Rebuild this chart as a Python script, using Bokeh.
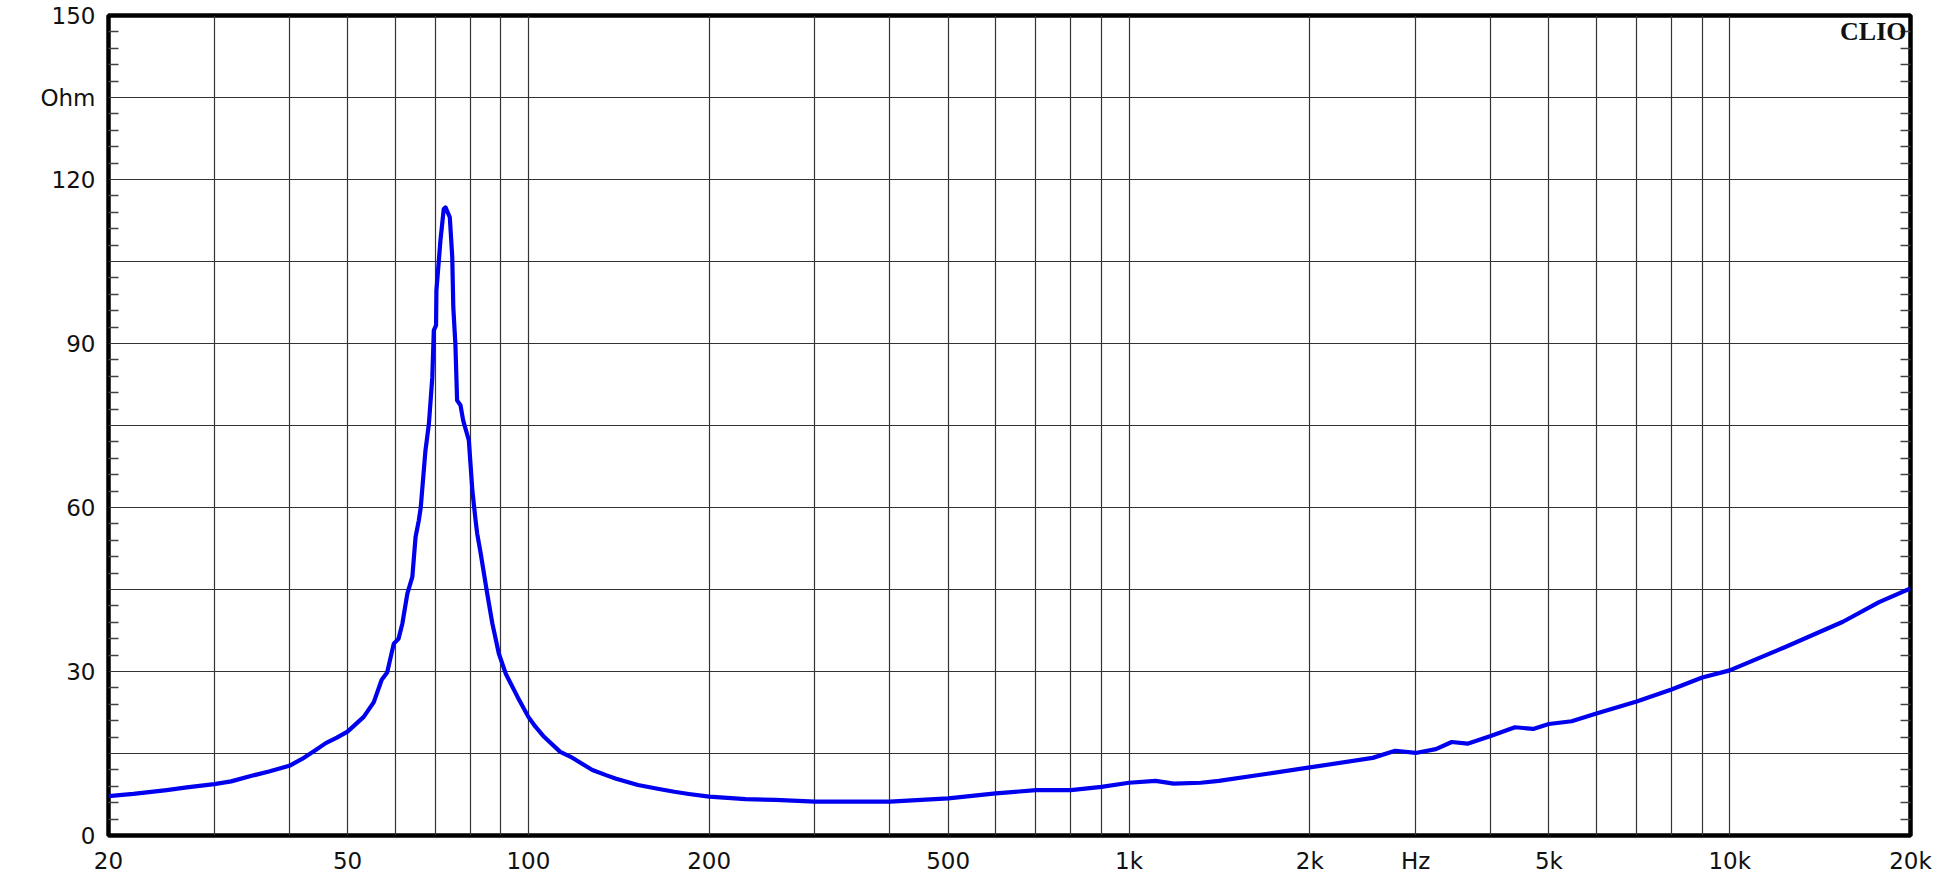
from bokeh.plotting import figure
from bokeh.models import Range1d, FixedTicker, LinearAxis, Label
from bokeh.embed import file_html
from bokeh.resources import INLINE

# Impedance curve (Hz, Ohm)
freq = [20, 22, 25, 27, 30, 32, 35, 37, 40, 42, 44.2, 46, 48, 50, 53.2, 55.3, 57.0, 58.2, 59.7,
        60.8, 61.7, 62.9, 64.1, 64.9, 65.7, 66.2, 67.4, 68.3, 69.2, 69.6, 70.2, 70.3, 71.4,
        72.3, 72.8, 74.0, 74.7, 75.0, 75.6, 76.1, 77.1, 77.9, 79.6, 80.7, 81.7, 82.2, 83.3,
        85.4, 87.1, 89.3, 91.7, 95.9, 100, 102.6, 106.2, 113, 117.6, 127.8, 135, 140, 152.2,
        165, 175, 185, 200, 230, 257.8, 300, 350, 400, 500, 600, 700, 800, 900, 1000, 1107,
        1187, 1317, 1411, 1700, 2000, 2545, 2775, 3000, 3243, 3446, 3661, 4000, 4392, 4707,
        5000, 5456, 6000, 7000, 8000, 9000, 10000, 12323, 15436, 17731, 20000]
ohm = [7.2, 7.6, 8.3, 8.8, 9.4, 9.9, 11.05, 11.7, 12.75, 14.0, 15.6, 16.9, 17.9, 19.0, 21.7, 24.4,
       28.5, 29.8, 35.1, 36.0, 38.8, 44.3, 47.3, 54.6, 57.6, 60.0, 70.4, 75.3, 83.8, 92.4, 93.3,
       99.7, 108.9, 114.6, 114.9, 113.1, 105.8, 96.6, 89.9, 79.6, 78.7, 75.9, 72.3, 63.0, 57.6,
       55.2, 51.6, 44.3, 38.8, 33.3, 29.6, 25.4, 21.7, 20.0, 18.05, 15.3, 14.4, 11.97, 11.0,
       10.4, 9.23, 8.5, 8.0, 7.6, 7.1, 6.67, 6.5, 6.2, 6.2, 6.2, 6.8, 7.7, 8.3, 8.3, 8.9, 9.65,
       10.0, 9.5, 9.65, 10.0, 11.3, 12.45, 14.2, 15.5, 15.1, 15.8, 17.1, 16.8, 18.2, 19.8, 19.5,
       20.4, 20.9, 22.3, 24.5, 26.7, 28.9, 30.2, 34.4, 39.1, 42.7, 45.2]

# Axis ticks and labels
x_label_ticks = [20, 50, 100, 200, 500, 1000, 2000, 3000, 5000, 10000, 20000]
x_label_text = ["20", "50", "100", "200", "500", "1k", "2k", "Hz", "5k", "10k", "20k"]
x_grid_ticks = [30, 40, 50, 60, 70, 80, 90, 100, 200, 300, 400, 500, 600, 700, 800, 900,
                1000, 2000, 3000, 4000, 5000, 6000, 7000, 8000, 9000, 10000]
y_label_ticks = [0, 30, 60, 90, 120, 135, 150]
y_label_text = ["0", "30", "60", "90", "120", "Ohm", "150"]
y_grid_ticks = [15, 30, 45, 60, 75, 90, 105, 120, 135]
y_minor_ticks = [v for v in range(3, 150, 3) if v % 15 != 0]

p = figure(width=1938, height=878, x_axis_type="log",
           x_range=Range1d(20, 20000), y_range=Range1d(0, 150),
           output_backend="svg", toolbar_location=None,
           min_border_left=108, min_border_right=28, min_border_top=15, min_border_bottom=43)

p.background_fill_color = "white"
p.border_fill_color = "white"
p.outline_line_color = "black"
p.outline_line_width = 4.5

label_font = "DejaVu Sans"
label_size = "23px"

# bottom axis
xa = p.xaxis[0]
xa.ticker = FixedTicker(ticks=x_label_ticks, minor_ticks=[])
xa.major_label_overrides = {t: s for t, s in zip(x_label_ticks, x_label_text)}
xa.axis_line_color = None
xa.major_tick_in = 0
xa.major_tick_out = 0
xa.minor_tick_in = 0
xa.minor_tick_out = 0
xa.major_label_standoff = 12
xa.major_label_text_font = label_font
xa.major_label_text_font_size = label_size
xa.major_label_text_color = "#111111"

# left axis
ya = p.yaxis[0]
ya.ticker = FixedTicker(ticks=y_label_ticks, minor_ticks=y_minor_ticks)
ya.major_label_overrides = {t: s for t, s in zip(y_label_ticks, y_label_text)}
ya.axis_line_color = None
ya.major_tick_in = 0
ya.major_tick_out = 0
ya.minor_tick_in = 10
ya.minor_tick_out = 0
ya.minor_tick_line_color = "#444444"
ya.minor_tick_line_width = 1.5
ya.major_label_standoff = 13
ya.major_label_text_font = label_font
ya.major_label_text_font_size = label_size
ya.major_label_text_color = "#111111"

# right axis: minor ticks only
ra = LinearAxis(ticker=FixedTicker(ticks=[], minor_ticks=y_minor_ticks),
                axis_line_color=None, major_tick_in=0, major_tick_out=0,
                minor_tick_in=10, minor_tick_out=0,
                minor_tick_line_color="#444444", minor_tick_line_width=1.5,
                major_label_text_font_size="0px")
p.add_layout(ra, "right")

# grids
p.xgrid.ticker = FixedTicker(ticks=x_grid_ticks)
p.xgrid.grid_line_color = "#333333"
p.xgrid.grid_line_width = 1.2
p.ygrid.ticker = FixedTicker(ticks=y_grid_ticks)
p.ygrid.grid_line_color = "#333333"
p.ygrid.grid_line_width = 1.2

# curve
p.line(freq, ohm, line_color="#0000ee", line_width=4.2, line_join="round")

p.add_layout(Label(x=20000, y=150, text="CLIO", text_font="Liberation Serif",
                   text_font_style="bold", text_font_size="26px", text_color="#111111",
                   text_align="right", text_baseline="top", x_offset=-4, y_offset=-1))

open("out.html", "w").write(file_html(p, INLINE))
